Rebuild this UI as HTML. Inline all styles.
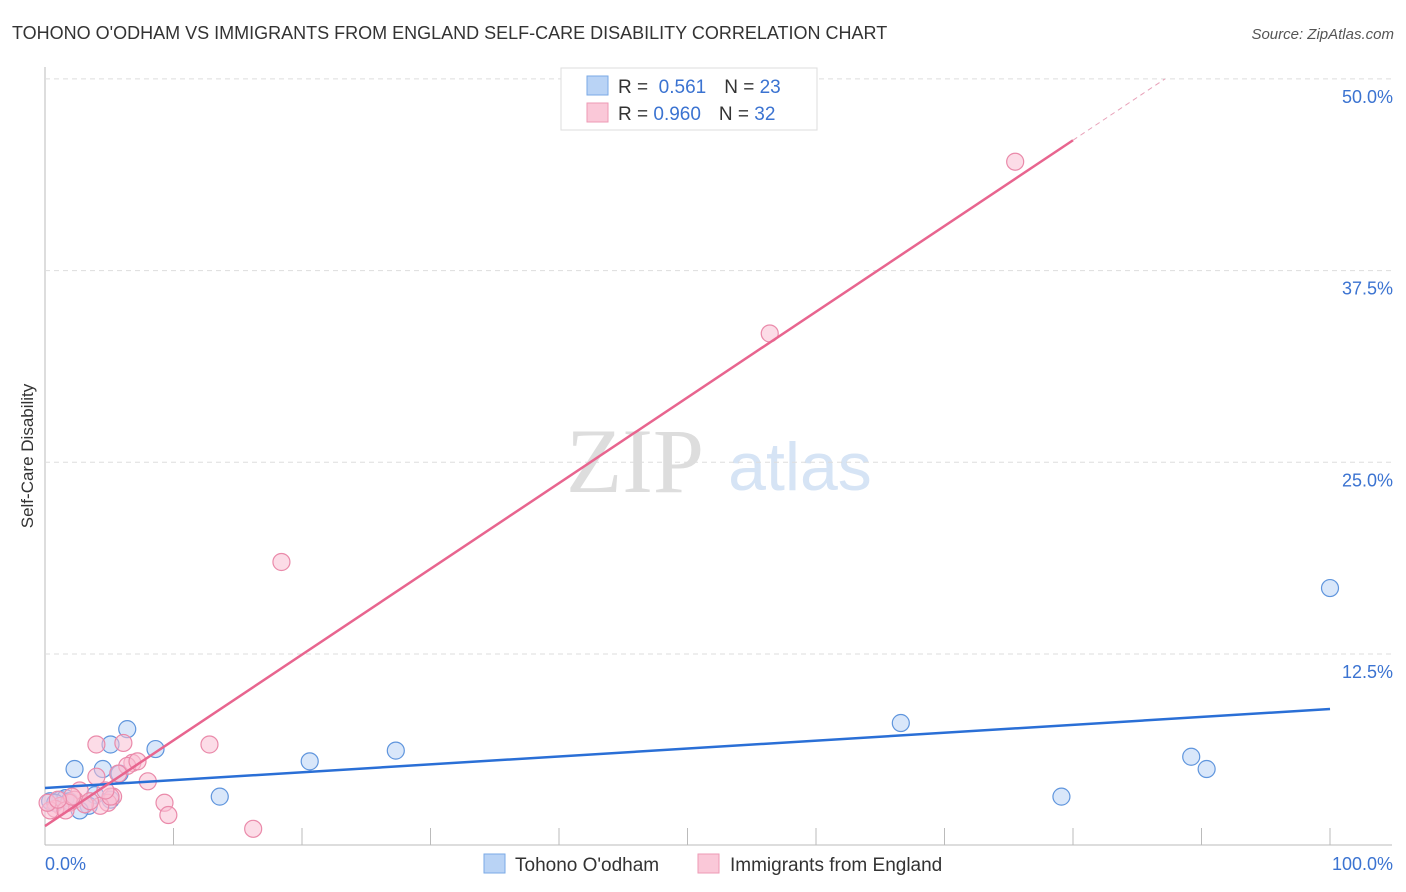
<!DOCTYPE html>
<html><head><meta charset="utf-8"><style>
body{margin:0;background:#fff;font-family:"Liberation Sans",sans-serif;}
#wrap{position:relative;width:1406px;height:892px;overflow:hidden}
</style></head><body><div id="wrap">
<svg id="svg" width="1406" height="892" xmlns="http://www.w3.org/2000/svg" font-family="Liberation Sans, sans-serif">
<text x="12" y="39" font-size="18" fill="#333">TOHONO O'ODHAM VS IMMIGRANTS FROM ENGLAND SELF-CARE DISABILITY CORRELATION CHART</text>
<text x="1394" y="39" font-size="15" fill="#555" font-style="italic" text-anchor="end">Source: ZipAtlas.com</text>
<text x="33" y="456" font-size="17" fill="#333" text-anchor="middle" transform="rotate(-90 33 456)">Self-Care Disability</text>
<text x="635" y="492" font-size="92" fill="#ddd" font-family="Liberation Serif, serif" text-anchor="middle">ZIP</text>
<text x="800" y="490" font-size="68" fill="#d6e4f5" text-anchor="middle">atlas</text>
<g id="grid"></g><g id="marks"></g>
<g>
<rect x="561" y="68" width="256" height="62" fill="#fff" stroke="#ddd"/>
<rect x="587" y="76" width="21" height="19" fill="#b9d3f5" stroke="#7aa9e6"/>
<rect x="587" y="103" width="21" height="19" fill="#fac8d8" stroke="#ee9ab5"/>
<text x="618" y="93" font-size="19" fill="#333">R = <tspan fill="#3b73d1">&#160;0.561</tspan><tspan dx="18">N = </tspan><tspan fill="#3b73d1">23</tspan></text>
<text x="618" y="120" font-size="19" fill="#333">R = <tspan fill="#3b73d1">0.960</tspan><tspan dx="18">N = </tspan><tspan fill="#3b73d1">32</tspan></text>
</g>
<g>
<rect x="484" y="854" width="21" height="19" fill="#b9d3f5" stroke="#7aa9e6"/>
<text x="515" y="871" font-size="19" fill="#333">Tohono O'odham</text>
<rect x="698" y="854" width="21" height="19" fill="#fac8d8" stroke="#ee9ab5"/>
<text x="730" y="871" font-size="19" fill="#333">Immigrants from England</text>
</g>
<text x="45" y="870" font-size="18" fill="#3b73d1">0.0%</text>
<text x="1393" y="870" font-size="18" fill="#3b73d1" text-anchor="end">100.0%</text>
</svg></div>
<script>
const yTicks=[12.5,25,37.5,50];
const yTickLabels=["12.5%","25.0%","37.5%","50.0%"];
const blueX=[6.4,5.1,8.6,2.3,4.5,5.8,3.9,5.1,3.4,2.7,1.2,0.4,1.6,13.6,20.6,27.3,66.6,79.1,89.2,90.4,100,0.8,1.9];
const blueY=[7.6,6.6,6.3,5.0,5.0,4.7,3.3,3.0,2.6,2.3,3.0,2.9,3.1,3.2,5.5,6.2,8.0,3.2,5.8,5.0,16.8,2.8,2.9];
const pinkX=[75.5,56.4,18.4,12.8,4.0,6.1,6.8,6.4,8.0,5.7,4.0,5.3,4.9,4.3,9.3,9.6,16.2,2.7,2.3,1.9,1.2,0.8,0.4,0.2,3.1,3.5,1.6,5.1,7.2,4.7,2.1,1.0];
const pinkY=[44.6,33.4,18.5,6.6,6.6,6.7,5.4,5.2,4.2,4.7,4.5,3.2,2.8,2.6,2.8,2.0,1.1,3.6,3.0,2.8,2.6,2.4,2.3,2.8,2.7,2.9,2.3,3.2,5.5,3.6,3.2,3.0];
const blueLine=[3.76,8.91];
const pinkLine=[1.28,0.559];
const NS="http://www.w3.org/2000/svg";
const X=v=>45+v*12.85, Y=v=>845.7-v*15.336;
const grid=document.getElementById('grid'), marks=document.getElementById('marks');
function mk(p,tag,a){const e=document.createElementNS(NS,tag);for(const k in a)e.setAttribute(k,a[k]);p.appendChild(e);return e;}
let ax=mk(grid,'line',{x1:45,y1:67,x2:45,y2:845,stroke:'#bbb'});


let bx=mk(grid,'line',{x1:45,y1:845,x2:1392,y2:845,stroke:'#bbb'});


for(let i=1;i<=10;i++){const t=mk(grid,'line',{x1:X(i*10),x2:X(i*10),y1:828,y2:845,stroke:'#bbb'});

}
yTicks.forEach((v,i)=>{const g=mk(grid,'line',{x1:45,x2:1392,y1:Y(v),y2:Y(v),stroke:'#ddd','stroke-dasharray':'5,4'});


const t=mk(grid,'text',{x:1393,y:Y(v)+24,'font-size':18,fill:'#3b73d1','text-anchor':'end'});t.textContent=yTickLabels[i];

});
function pts(xs,ys,fill,stroke,name){xs.forEach((x,i)=>{const c=mk(marks,'circle',{cx:X(x),cy:Y(ys[i]),r:8.5,fill:fill,'fill-opacity':0.55,stroke:stroke,'stroke-width':1.2});

});}
pts(blueX,blueY,'#b9d3f5','#5f95dd','tohono-point');
pts(pinkX,pinkY,'#fac0d3','#ea8aaa','england-point');
let bl=mk(marks,'line',{x1:X(0),y1:Y(blueLine[0]),x2:X(100),y2:Y(blueLine[1]),stroke:'#2a6fd6','stroke-width':2.5});


const pe=80, pm=(50-pinkLine[0])/pinkLine[1];
let pl=mk(marks,'line',{x1:X(0),y1:Y(pinkLine[0]),x2:X(pe),y2:Y(pinkLine[0]+pinkLine[1]*pe),stroke:'#e8658f','stroke-width':2.5});


let pd=mk(marks,'line',{x1:X(pe),y1:Y(pinkLine[0]+pinkLine[1]*pe),x2:X(pm),y2:Y(50),stroke:'#e8a0b8','stroke-width':1,'stroke-dasharray':'5,4'});


</script></body></html>
